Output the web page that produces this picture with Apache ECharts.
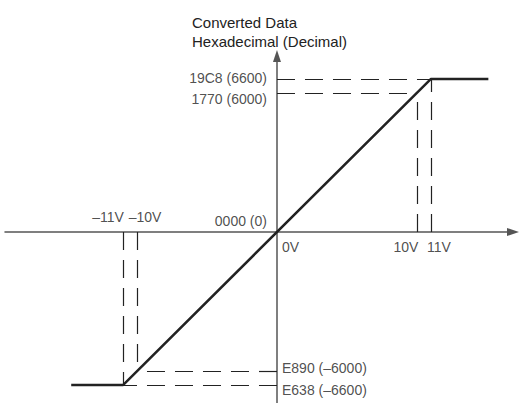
<!DOCTYPE html>
<html>
<head>
<meta charset="utf-8">
<script src="https://cdn.jsdelivr.net/npm/echarts@6/dist/echarts.min.js"></script>
<style>
html,body{margin:0;padding:0;background:#fff;}
#chart{width:522px;height:403px;}
</style>
</head>
<body>
<div id="chart"></div>
<script>
// Transfer characteristic (input voltage in V -> converted value)
var transferX = [-14.7, -11, 11, 15.1];
var transferY = [-6600, -6600, 6600, 6600];

// Dashed guide points (voltage, converted value)
var guideX = [-11, -10, 10, 11];
var guideY = [-6600, -6000, 6000, 6600];

// Tick labels on the voltage axis
var xTickValues = [-11, -10, 0, 10, 11];
var xTickLabels = ['\u201311V', '\u201310V', '0V', '10V', '11V'];

// Tick labels on the converted-data axis
var yTickValues = [6600, 6000, 0, -6000, -6600];
var yTickLabels = ['19C8 (6600)', '1770 (6000)', '0000 (0)', 'E890 (\u20136000)', 'E638 (\u20136600)'];

var titleLines = ['Converted Data', 'Hexadecimal (Decimal)'];

var FONT = "'Liberation Sans', Arial, Helvetica, sans-serif";
var TXT = '#222';

var chart = echarts.init(document.getElementById('chart'), null, {renderer: 'svg'});

// label placement styles (not data)
var xLabelStyle = [
  {align: 'center', offset: [-15, -15]},
  {align: 'center', offset: [8, -15]},
  {align: 'left', offset: [5, 15]},
  {align: 'center', offset: [-11, 15]},
  {align: 'center', offset: [8, 15]}
];
var yLabelStyle = [
  {align: 'right', offset: [-10, -1]},
  {align: 'right', offset: [-10, 6]},
  {align: 'right', offset: [-10, -11]},
  {align: 'left', offset: [5, -3]},
  {align: 'left', offset: [5, 5]}
];

function labelItem(coord, text, st) {
  return {
    value: coord,
    label: {
      show: true, position: 'inside', formatter: text,
      align: st.align, verticalAlign: 'middle', offset: st.offset,
      color: TXT, fontSize: 14, fontFamily: FONT
    }
  };
}

var labelData = [];
xTickValues.forEach(function (v, i) {
  labelData.push(labelItem([v, 0], xTickLabels[i], xLabelStyle[i]));
});
yTickValues.forEach(function (v, i) {
  labelData.push(labelItem([0, v], yTickLabels[i], yLabelStyle[i]));
});

var guideLines = [];
guideX.forEach(function (x, i) {
  var y = guideY[i];
  guideLines.push([{coord: [0, y]}, {coord: [x, y]}]);
  guideLines.push([{coord: [x, 0]}, {coord: [x, y]}]);
});

var axisLineStyle = {color: '#555', width: 1.5};

chart.setOption({
  animation: false,
  backgroundColor: '#fff',
  title: {
    text: titleLines.join('\n'),
    left: 187, top: 8,
    textStyle: {fontSize: 15, fontWeight: 'normal', color: TXT, fontFamily: FONT, lineHeight: 19}
  },
  grid: {left: 5, right: 9, top: 56, bottom: 0},
  xAxis: {
    type: 'value', min: -19.43, max: 16.86,
    axisLine: {onZero: true, symbol: ['none', 'triangle'], symbolSize: [8, 12], lineStyle: axisLineStyle},
    axisTick: {show: false}, axisLabel: {show: false}, splitLine: {show: false}
  },
  yAxis: {
    type: 'value', min: -7371, max: 7586,
    axisLine: {onZero: true, symbol: ['none', 'triangle'], symbolSize: [8, 12], lineStyle: axisLineStyle},
    axisTick: {show: false}, axisLabel: {show: false}, splitLine: {show: false}
  },
  series: [
    {
      type: 'line',
      data: transferX.map(function (x, i) { return [x, transferY[i]]; }),
      showSymbol: false, symbol: 'none',
      lineStyle: {color: '#222', width: 2.5},
      z: 5,
      markLine: {
        silent: true, symbol: ['none', 'none'],
        label: {show: false},
        lineStyle: {color: '#222', width: 1.2, type: [18, 10]},
        data: guideLines,
        z: 3
      }
    },
    {
      type: 'scatter',
      symbolSize: 0,
      silent: true,
      data: labelData,
      z: 6
    }
  ]
});
</script>
</body>
</html>
